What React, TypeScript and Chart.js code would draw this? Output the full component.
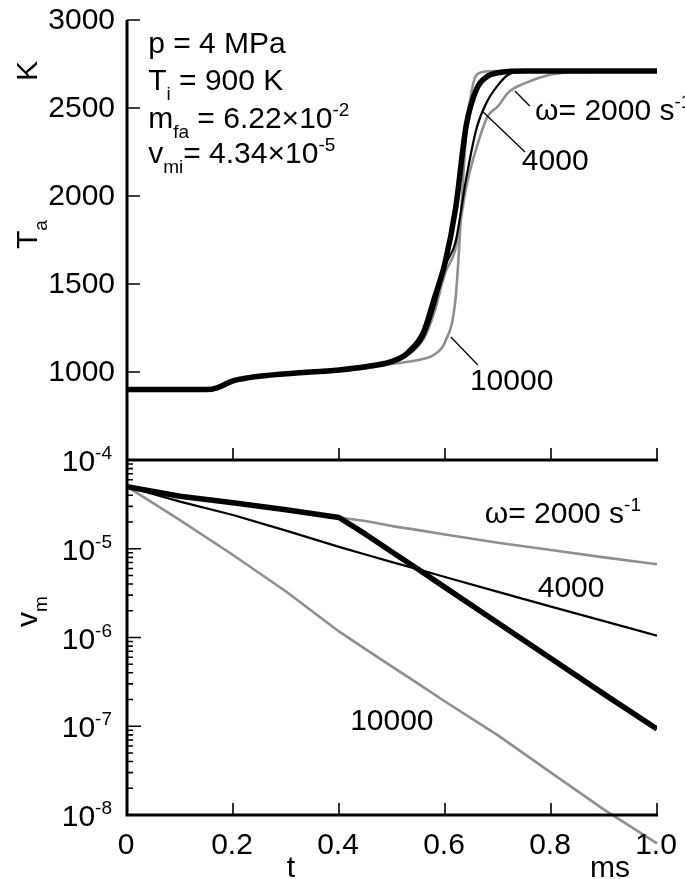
import React, { useEffect, useRef } from "react";
import { Chart, registerables } from "chart.js";

Chart.register(...registerables);

// ---------- data ----------
// Top panel: gas temperature Ta (K) vs time t (ms)
const timeTa = [0, 0.15, 0.17, 0.2, 0.23, 0.3, 0.4, 0.45, 0.5, 0.53, 0.56, 0.58, 0.6, 0.62, 0.64, 0.66, 0.68, 0.7, 0.72, 0.75, 0.8, 0.85, 1.0];
const taThick = [900, 900, 910, 950, 968, 990, 1012, 1030, 1060, 1110, 1230, 1420, 1620, 1930, 2400, 2610, 2680, 2700, 2708, 2710, 2710, 2710, 2710];
const ta4000 = [900, 900, 910, 950, 968, 990, 1012, 1030, 1055, 1100, 1200, 1370, 1600, 1740, 2100, 2390, 2540, 2630, 2690, 2708, 2710, 2710, 2710];
const ta2000 = [900, 900, 910, 950, 968, 990, 1012, 1030, 1055, 1095, 1190, 1340, 1560, 1700, 2050, 2280, 2450, 2510, 2590, 2640, 2690, 2705, 2710];
const ta10000 = [900, 900, 910, 950, 968, 988, 1005, 1020, 1045, 1058, 1075, 1100, 1170, 1420, 2350, 2690, 2708, 2710, 2710, 2710, 2710, 2710, 2710];

// Bottom panel: droplet volume vm vs time t (ms), log scale
const timeV = [0, 0.1, 0.2, 0.3, 0.4, 0.45, 0.5, 0.55, 0.6, 0.7, 0.8, 0.9, 1.0];
const vmThick = [5.0e-5, 3.9e-5, 3.3e-5, 2.75e-5, 2.25e-5, 1.46e-5, 9.2e-6, 5.83e-6, 3.67e-6, 1.46e-6, 5.8e-7, 2.3e-7, 9.3e-8];
const vm4000 = [5.0e-5, 3.4e-5, 2.4e-5, 1.6e-5, 1.05e-5, 8.6e-6, 7.07e-6, 5.85e-6, 4.8e-6, 3.27e-6, 2.23e-6, 1.53e-6, 1.05e-6];
const vm2000 = [5.0e-5, 3.9e-5, 3.3e-5, 2.75e-5, 2.25e-5, 2.05e-5, 1.8e-5, 1.62e-5, 1.45e-5, 1.17e-5, 9.7e-6, 8.0e-6, 6.7e-6];
const vm10000 = [5.0e-5, 2.1e-5, 8.5e-6, 3.3e-6, 1.17e-6, 7.4e-7, 4.7e-7, 3.0e-7, 1.9e-7, 7.9e-8, 3.0e-8, 1.15e-8, 4.8e-9];

// Tick values / labels
const timeTicks = [0, 0.2, 0.4, 0.6, 0.8, 1.0];
const timeTickLabels = ["0", "0.2", "0.4", "0.6", "0.8", "1.0"];
const tempTicks = [1000, 1500, 2000, 2500, 3000];
const vmExponents = [-4, -5, -6, -7, -8];

// ---------- layout / style ----------
const W = 685;
const H = 879;
const PAD = { left: 127, right: 28, top: 20, bottom: 64 };
const PLOT_H = H - PAD.top - PAD.bottom; // 795
const SPLIT = 440 / PLOT_H; // fraction of plot height used by top panel
const T_TOP = 3000;
const T_BOTTOM = 500;
const T_MIN_EXT = T_TOP - (T_TOP - T_BOTTOM) / SPLIT;
const V_LOG_MAX = (8 * SPLIT - 4) / (1 - SPLIT);
const V_MAX_EXT = Math.pow(10, V_LOG_MAX);

const FONT = '"Liberation Sans", Arial, Helvetica, sans-serif';
const FS = 30;
const GRAY = "#8f8f8f";

type Seg = { t: string; k?: "sub" | "sup" };

function drawRich(ctx: CanvasRenderingContext2D, segs: Seg[], x: number, y: number, size: number) {
  let cx = x;
  for (const s of segs) {
    const fs = s.k ? Math.round(size * 0.62) : size;
    ctx.font = `${fs}px ${FONT}`;
    const dy = s.k === "sub" ? size * 0.32 : s.k === "sup" ? -size * 0.4 : 0;
    ctx.fillText(s.t, cx, y + dy);
    cx += ctx.measureText(s.t).width;
  }
  return cx - x;
}

function richWidth(ctx: CanvasRenderingContext2D, segs: Seg[], size: number) {
  let w = 0;
  for (const s of segs) {
    const fs = s.k ? Math.round(size * 0.62) : size;
    ctx.font = `${fs}px ${FONT}`;
    w += ctx.measureText(s.t).width;
  }
  return w;
}

// annotation text (positions given in data units)
const infoLines: Seg[][] = [
  [{ t: "p = 4 MPa" }],
  [{ t: "T" }, { t: "i", k: "sub" }, { t: " = 900 K" }],
  [{ t: "m" }, { t: "fa", k: "sub" }, { t: " = 6.22×10" }, { t: "-2", k: "sup" }],
  [{ t: "v" }, { t: "mi", k: "sub" }, { t: "= 4.34×10" }, { t: "-5", k: "sup" }],
];
const infoPos = { t: 0.04, temps: [2812, 2602, 2386, 2187] };

const omegaLabel: Seg[] = [{ t: "ω= 2000 s" }, { t: "-1", k: "sup" }];

const topLabels = [
  { segs: omegaLabel, t: 0.77, T: 2432, lead: [0.76, 2511, 0.732, 2597] },
  { segs: [{ t: "4000" }] as Seg[], t: 0.745, T: 2148, lead: [0.751, 2250, 0.672, 2477] },
  { segs: [{ t: "10000" }] as Seg[], t: 0.647, T: 898, lead: [0.662, 1040, 0.611, 1199] },
];
const bottomLabels = [
  { segs: omegaLabel, t: 0.675, v: 1.95e-5 },
  { segs: [{ t: "4000" }] as Seg[], t: 0.775, v: 2.86e-6 },
  { segs: [{ t: "10000" }] as Seg[], t: 0.421, v: 9.1e-8 },
];

const axesPlugin = {
  id: "tecplotAxes",
  afterDraw(chart: any) {
    const ctx: CanvasRenderingContext2D = chart.ctx;
    const xs = chart.scales.x;
    const yT = chart.scales.yT;
    const yV = chart.scales.yV;
    const L = xs.getPixelForValue(0);
    const R = xs.getPixelForValue(1);
    const top = yT.getPixelForValue(T_TOP);
    const mid = yT.getPixelForValue(T_BOTTOM);
    const bot = yV.getPixelForValue(1e-8);

    ctx.save();
    ctx.strokeStyle = "#000";
    ctx.fillStyle = "#000";
    ctx.lineCap = "butt";

    // axis lines
    ctx.lineWidth = 3;
    ctx.beginPath();
    ctx.moveTo(L, top);
    ctx.lineTo(L, bot + 1.5);
    ctx.moveTo(L - 1.5, mid);
    ctx.lineTo(R + 1, mid);
    ctx.moveTo(L - 1.5, bot);
    ctx.lineTo(R + 1, bot);
    ctx.stroke();

    // ticks
    ctx.lineWidth = 1.6;
    ctx.beginPath();
    for (const T of tempTicks) {
      const y = yT.getPixelForValue(T);
      ctx.moveTo(L, y);
      ctx.lineTo(L + 13, y);
    }
    for (const t of timeTicks) {
      if (t === 0) continue;
      const x = xs.getPixelForValue(t);
      ctx.moveTo(x, mid);
      ctx.lineTo(x, mid - 12);
      ctx.moveTo(x, bot);
      ctx.lineTo(x, bot - 12);
    }
    for (const e of vmExponents) {
      const y = yV.getPixelForValue(Math.pow(10, e));
      ctx.moveTo(L, y);
      ctx.lineTo(L + 14, y);
      if (e > -8) {
        for (let m = 2; m <= 9; m++) {
          const ym = yV.getPixelForValue(m * Math.pow(10, e - 1));
          ctx.moveTo(L, ym);
          ctx.lineTo(L + 6, ym);
        }
      }
    }
    ctx.stroke();

    // tick labels
    ctx.font = `${FS}px ${FONT}`;
    ctx.textAlign = "right";
    ctx.textBaseline = "middle";
    for (const T of tempTicks) {
      ctx.fillText(String(T), L - 12, yT.getPixelForValue(T) + 1);
    }
    ctx.textBaseline = "alphabetic";
    ctx.textAlign = "center";
    timeTicks.forEach((t, i) => {
      ctx.fillText(timeTickLabels[i], xs.getPixelForValue(t) - 1, bot + 39);
    });
    ctx.textAlign = "left";
    for (const e of vmExponents) {
      const segs: Seg[] = [{ t: "10" }, { t: String(e), k: "sup" }];
      const w = richWidth(ctx, segs, FS);
      const y = yV.getPixelForValue(Math.pow(10, e));
      drawRich(ctx, segs, L - 15 - w, y + 11, FS);
    }

    // axis titles
    const rot = (segs: Seg[], x: number, y: number) => {
      ctx.save();
      ctx.translate(x, y);
      ctx.rotate(-Math.PI / 2);
      drawRich(ctx, segs, 0, 0, FS);
      ctx.restore();
    };
    rot([{ t: "K" }], 37, 81);
    rot([{ t: "T" }, { t: "a", k: "sub" }], 37, 249);
    rot([{ t: "v" }, { t: "m", k: "sub" }], 37, 627);

    ctx.textAlign = "center";
    ctx.font = `${FS}px ${FONT}`;
    ctx.fillText("t", 291, 877);
    ctx.fillText("ms", 610, 877);
    ctx.textAlign = "left";

    // info block
    infoLines.forEach((segs, i) => {
      drawRich(ctx, segs, xs.getPixelForValue(infoPos.t), yT.getPixelForValue(infoPos.temps[i]), FS);
    });

    // curve labels, top panel
    ctx.lineWidth = 1.3;
    for (const lab of topLabels) {
      drawRich(ctx, lab.segs, xs.getPixelForValue(lab.t), yT.getPixelForValue(lab.T), FS);
      const [t1, T1, t2, T2] = lab.lead;
      ctx.beginPath();
      ctx.moveTo(xs.getPixelForValue(t1), yT.getPixelForValue(T1));
      ctx.lineTo(xs.getPixelForValue(t2), yT.getPixelForValue(T2));
      ctx.stroke();
    }
    // curve labels, bottom panel
    for (const lab of bottomLabels) {
      drawRich(ctx, lab.segs, xs.getPixelForValue(lab.t), yV.getPixelForValue(lab.v), FS);
    }
    ctx.restore();
  },
};

function pts(xsArr: number[], ysArr: number[]) {
  return xsArr.map((x, i) => ({ x, y: ysArr[i] }));
}

export default function App() {
  const ref = useRef<HTMLCanvasElement>(null);
  useEffect(() => {
    const canvas = ref.current;
    if (!canvas) return;
    const taCommon = { yAxisID: "yT", cubicInterpolationMode: "monotone" as const, pointRadius: 0, borderJoinStyle: "round" as const, borderCapStyle: "butt" as const };
    const vCommon = { yAxisID: "yV", tension: 0, pointRadius: 0, borderJoinStyle: "round" as const };
    const chart = new Chart(canvas, {
      type: "line",
      data: {
        datasets: [
          { ...taCommon, label: "Ta thick", data: pts(timeTa, taThick), borderColor: "#000", borderWidth: 5.5 },
          { ...taCommon, label: "Ta ω=4000", data: pts(timeTa, ta4000), borderColor: "#000", borderWidth: 2.2 },
          { ...taCommon, label: "Ta ω=2000", data: pts(timeTa, ta2000), borderColor: GRAY, borderWidth: 2.6 },
          { ...taCommon, label: "Ta ω=10000", data: pts(timeTa, ta10000), borderColor: GRAY, borderWidth: 2.6 },
          { ...vCommon, label: "vm thick", data: pts(timeV, vmThick), borderColor: "#000", borderWidth: 5.5 },
          { ...vCommon, label: "vm ω=4000", data: pts(timeV, vm4000), borderColor: "#000", borderWidth: 2.2 },
          { ...vCommon, label: "vm ω=2000", data: pts(timeV, vm2000), borderColor: GRAY, borderWidth: 2.6 },
          { ...vCommon, label: "vm ω=10000", data: pts(timeV, vm10000), borderColor: GRAY, borderWidth: 2.6, clip: false as any },
        ] as any,
      },
      options: {
        responsive: false,
        maintainAspectRatio: false,
        animation: false,
        devicePixelRatio: 1,
        events: [],
        layout: { padding: PAD },
        plugins: { legend: { display: false }, tooltip: { enabled: false } },
        scales: {
          x: { type: "linear", min: 0, max: 1, display: false, bounds: "data" },
          yT: { type: "linear", position: "left", min: T_MIN_EXT, max: T_TOP, display: false, bounds: "data" },
          yV: { type: "logarithmic", position: "left", min: 1e-8, max: V_MAX_EXT, display: false, bounds: "data" },
        },
      } as any,
      plugins: [axesPlugin],
    });
    return () => chart.destroy();
  }, []);

  return (
    <div style={{ position: "absolute", left: 0, top: 0, width: W, height: H, background: "#fff" }}>
      <canvas ref={ref} width={W} height={H} style={{ display: "block", width: W, height: H }} />
    </div>
  );
}
